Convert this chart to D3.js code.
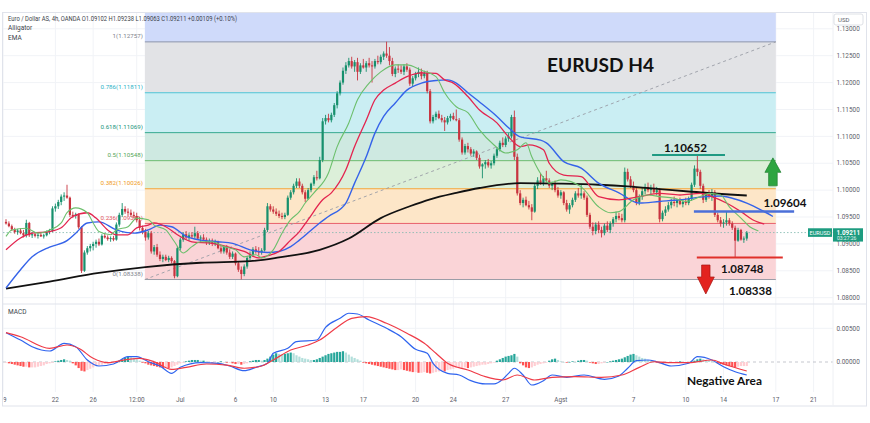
<!DOCTYPE html>
<html><head><meta charset="utf-8">
<script src="https://cdn.jsdelivr.net/npm/d3@7/dist/d3.min.js"></script>
<style>html,body{margin:0;padding:0;background:#fff;}svg{display:block;}</style>
</head><body>
<svg id="c" width="870" height="423"></svg>
<script>
// ---------- DATA (prices in pips above 1.08000; index = 4h bar) ----------
const candles = [
[141,146,136,138],[138,142,131,133],[133,136,124,127],[127,130,119,122],[122,128,117,125],[125,129,118,120],[120,126,112,116],[116,145,112,139],[139,141,113,116],[116,122,111,118],
[118,121,112,115],[115,120,110,117],[117,121,113,114],[114,119,110,116],[116,125,114,122],[122,128,118,124],[124,170,122,166],[166,175,160,170],[170,182,165,178],[178,192,172,188],
[188,196,180,190],[190,210,184,186],[186,188,150,154],[154,160,148,152],[152,158,147,155],[155,157,128,131],[131,133,46,50],[50,88,48,84],[84,96,80,92],[92,100,86,96],
[96,104,88,100],[100,108,93,104],[104,110,96,99],[99,118,97,115],[115,120,110,112],[112,116,106,109],[109,114,104,111],[111,115,105,108],[108,140,106,136],[136,158,132,154],
[154,176,150,165],[165,170,156,160],[160,166,152,158],[158,164,150,154],[154,160,148,152],[152,158,140,144],[144,150,125,130],[130,134,118,122],[122,128,106,112],[112,124,108,120],
[120,124,82,86],[86,98,80,94],[94,100,76,80],[80,86,68,72],[72,80,66,76],[76,80,68,70],[70,78,66,74],[74,77,64,68],[68,70,36,40],[40,96,38,92],
[92,112,88,108],[108,122,104,118],[118,124,108,112],[112,120,106,116],[116,122,110,114],[114,132,110,120],[120,124,108,110],[110,116,104,112],[112,118,106,108],[108,112,98,102],
[102,110,98,106],[106,110,96,100],[100,108,96,104],[104,106,90,92],[92,98,82,86],[86,96,82,94],[94,98,80,84],[84,90,72,76],[76,86,72,82],[82,84,60,64],
[64,68,48,52],[52,58,34,44],[44,62,40,58],[58,78,54,74],[74,86,70,80],[80,94,76,90],[90,96,82,86],[86,94,78,84],[84,92,80,88],[88,130,86,126],
[126,176,122,170],[170,174,160,164],[164,170,156,160],[160,166,152,156],[156,162,148,152],[152,158,146,150],[150,158,146,154],[154,190,152,186],[186,200,182,196],[196,212,192,208],
[208,222,204,216],[216,222,204,208],[208,212,192,196],[196,200,178,184],[184,204,182,200],[200,214,196,212],[212,228,208,224],[224,236,218,222],[222,262,220,256],[256,334,252,328],
[328,340,322,334],[334,342,326,330],[330,344,326,340],[340,362,336,358],[358,384,352,380],[380,404,376,400],[400,428,396,422],[422,438,416,432],[432,446,428,440],[440,448,426,430],
[430,442,420,438],[438,446,404,420],[420,436,416,432],[432,444,426,428],[428,440,420,436],[436,446,428,432],[432,440,400,430],[430,444,426,440],[440,450,434,438],[438,452,434,448],
[448,458,442,454],[454,476,446,450],[450,466,432,440],[440,446,412,416],[416,430,410,426],[426,434,418,424],[424,432,416,420],[420,434,414,430],[430,436,420,424],[424,428,394,398],
[398,412,392,408],[408,420,404,416],[416,428,410,420],[420,426,406,412],[412,422,408,418],[418,422,380,384],[384,388,324,328],[328,340,324,336],[336,346,330,342],[342,348,332,334],
[334,340,326,330],[330,336,310,326],[326,338,322,334],[334,342,328,338],[338,344,330,332],[332,350,328,330],[330,334,290,294],[294,298,266,270],[270,286,266,282],[282,288,270,276],
[276,280,264,268],[268,276,262,272],[272,274,256,260],[260,266,240,244],[244,250,222,248],[248,256,240,252],[252,258,242,246],[246,254,240,250],[250,268,246,264],[264,280,260,276],
[276,292,272,288],[288,298,280,284],[284,300,280,296],[296,306,290,300],[300,340,296,336],[336,348,256,262],[262,268,190,194],[194,200,172,176],[176,186,168,182],[182,188,170,172],
[172,180,164,168],[168,174,144,160],[160,212,158,208],[208,224,202,218],[218,232,210,214],[214,226,208,222],[222,236,214,218],[218,222,204,208],[208,216,200,212],[212,218,196,200],
[200,206,186,190],[190,200,184,196],[196,198,172,176],[176,182,160,164],[164,176,156,172],[172,186,168,182],[182,198,178,194],[194,204,186,190],[190,210,184,194],[194,198,182,186],
[186,190,150,154],[154,158,128,132],[132,140,116,124],[124,140,118,136],[136,142,120,126],[126,132,112,120],[120,138,116,134],[134,142,122,126],[126,142,120,138],[138,150,132,146],
[146,160,140,152],[152,158,144,148],[148,156,140,144],[144,242,140,234],[234,240,216,220],[220,226,204,208],[208,216,196,200],[200,206,172,178],[178,192,172,188],[188,204,182,198],
[198,212,192,206],[206,214,196,200],[200,210,190,204],[204,212,194,196],[196,206,190,200],[200,204,140,146],[146,162,142,158],[158,170,152,164],[164,178,160,172],[172,184,166,178],
[178,188,170,176],[176,184,168,182],[182,186,172,174],[174,182,168,178],[178,186,172,176],[176,188,172,184],[184,214,180,210],[210,246,206,240],[240,265,226,234],[234,238,202,208],
[208,212,176,182],[182,196,178,192],[192,200,184,188],[188,202,180,196],[196,200,150,154],[154,158,140,144],[144,150,132,138],[138,146,130,140],[140,160,134,144],[144,148,134,138],
[138,142,126,130],[130,134,75,106],[106,130,104,126],[126,128,106,108],[108,114,102,110],[110,124,106,121]
];
// Alligator & EMA points [bar index, pips]
const jaw = [[0,18],[5,52],[9,76],[15,94],[21,106],[24,120],[28,139],[32,141],[38,126],[44,120],[49,126],[53,135],[57,132],[62,114],[67,107],[73,104],[78,101],[84,89],[90,84],[94,86],[98,95],[101,107],[108,139],[111,151],[117,176],[120,213],[124,262],[127,306],[130,337],[134,362],[138,386],[143,399],[148,404],[152,405],[155,399],[159,381],[163,364],[169,337],[173,316],[177,299],[184,293],[186,288],[192,253],[198,241],[204,213],[211,195],[218,176],[225,179],[232,182],[241,188],[246,189],[250,185],[255,176],[260,163],[264,151]];
const teeth = [[0,89],[5,111],[9,120],[15,123],[19,130],[23,151],[28,158],[31,148],[35,126],[38,117],[42,117],[45,130],[49,135],[51,139],[55,132],[59,117],[64,104],[71,101],[76,95],[82,86],[87,74],[90,78],[94,86],[98,107],[101,123],[104,145],[109,182],[112,195],[117,238],[120,281],[124,330],[127,368],[130,386],[134,399],[138,411],[143,418],[148,417],[151,405],[154,399],[159,374],[163,349],[169,325],[173,299],[177,281],[180,284],[185,275],[187,250],[192,228],[198,225],[204,188],[211,182],[218,188],[225,194],[232,191],[239,194],[243,188],[248,176],[253,160],[257,145],[261,137]];
const lips = [[0,114],[2,126],[7,129],[11,120],[15,126],[19,139],[21,158],[24,167],[28,158],[30,139],[32,123],[36,117],[38,126],[42,132],[45,148],[49,145],[51,135],[55,126],[58,104],[61,83],[64,95],[67,104],[71,104],[75,95],[79,89],[82,76],[86,80],[88,74],[92,89],[95,120],[98,145],[101,160],[103,176],[106,195],[111,232],[114,281],[118,325],[121,368],[125,399],[129,420],[134,433],[138,433],[143,423],[148,411],[151,381],[155,355],[159,344],[163,312],[168,284],[172,269],[176,275],[179,288],[181,262],[184,231],[187,213],[191,219],[198,206],[204,169],[208,158],[211,160],[216,182],[221,191],[225,188],[230,185],[234,179],[239,188],[242,194],[246,191],[249,169],[253,148],[256,132],[259,124]];
const ema = [[0,17],[15,30],[32,46],[48,57],[67,65],[84,68],[94,75],[108,89],[118,110],[129,148],[139,170],[146,183],[155,195],[163,204],[177,213],[191,212],[204,210],[214,207],[225,202],[236,197],[255,190]];
// MACD points [bar index, value x1e-4]
const macd = [[0,43.5],[5,32.6],[9,22.7],[15,16.3],[20,27.7],[24,22.7],[28,3],[32,-5.9],[37,-3],[42,7.9],[45,7.9],[49,0.4],[53,-5.9],[57,-16.8],[60,-7.9],[67,-1],[73,-1.9],[77,-5.9],[82,-12.9],[86,-7.9],[90,-1.9],[92,12.9],[97,20.3],[100,30.1],[107,32.6],[110,51.5],[115,64.8],[118,72.3],[121,71.2],[125,62.3],[131,50],[136,37.5],[141,18.8],[145,12.9],[147,-1.9],[152,-16.8],[156,-19.3],[160,-27.7],[165,-32.6],[168,-32.6],[171,-25.7],[173,-16.8],[175,-9.3],[178,-19.3],[181,-34.1],[185,-27.7],[188,-19.3],[193,-22.7],[199,-19.3],[206,-25.7],[211,-20.8],[214,-9.3],[217,1.9],[221,3],[224,0.4],[229,-5.9],[235,-1.9],[238,7.9],[243,3],[247,-7],[251,-14.4],[255,-19.3]];
const signal = [[0,43.5],[5,37.5],[15,20.3],[21,25.2],[25,20.3],[30,5.5],[35,-1],[42,4],[46,5.5],[51,0.4],[57,-10.8],[62,-7.9],[69,-3],[76,-4.5],[82,-9.3],[88,-5.9],[92,3],[98,17.8],[104,25.2],[108,32.6],[114,51.5],[119,64.8],[124,67.2],[131,57.4],[138,42.6],[144,27.7],[148,12.9],[152,-1.9],[159,-11.9],[165,-21.8],[171,-26.7],[176,-19.3],[182,-26.7],[188,-22.7],[196,-21.8],[205,-22.7],[212,-19.3],[218,-7.9],[223,0.4],[228,-1],[235,-1],[243,3],[247,-3],[255,-13.4]];
const hist = [-1,-2,-3,-4,-5,-6,-7,-7,-8,-8,-8,-7,-6,-5,-3,-2,-1,1,2,3,4,3,2,-2,-5,-9,-13,-14,-12,-10,-8,-6,-5,-4,-3,-3,-2,-1,0,2,4,6,8,7,6,4,2,
-1,-2,-4,-5,-6,-7,-8,-9,-8,-9,-8,-6,-4,-2,-1,1,2,3,3,3,2,2,1,0,-1,-1,0,1,0,-1,-1,-2,-3,-3,-4,-3,-2,1,2,3,3,2,3,5,
8,11,13,12,11,12,13,14,13,10,8,6,5,4,3,3,4,6,8,10,12,13,14,15,15,16,14,11,8,6,4,2,-1,-2,-3,-4,-5,-6,-7,-8,
-9,-10,-11,-12,-12,-11,-12,-13,-14,-15,-15,-16,-16,-15,-16,-17,-16,-15,-14,-13,-14,-12,-11,-10,-9,-9,-9,-8,-9,-8,-7,
-6,-5,-4,-4,-3,-2,-1,2,4,6,8,9,10,12,8,-2,-5,-8,-9,-8,-6,-4,-3,-2,-1,2,4,5,3,1,0,-1,0,1,0,2,3,3,2,
-1,-2,-3,-3,-2,-1,0,1,2,3,4,5,7,9,11,12,10,8,6,5,3,2,1,-1,-2,-3,-3,-2,-1,-1,0,1,0,-1,0,1,2,4,5,4,3,2,1,0,
-2,-3,-4,-5,-6,-7,-8,-7,-6,-6,-6];
// Fibonacci retracement
const fibRatios = ["0","0.236","0.382","0.5","0.618","0.786","1"];
const fibPrices = [1.08338,1.09381,1.10026,1.10548,1.11069,1.11811,1.12757];
const fibExtTop = 1.13500;
// Marked levels
const markLevels = [1.10652,1.09604,1.08748];
const markTexts = ["1.10652","1.09604","1.08748","1.08338"];
const lastPrice = 1.09211;
// Axes
const tickIdx = [-1,17,30,45,60,79,92,110,123,141,154,172,191,216,234,247,265,278];
const tickLabels = ["19","22","26","12:00","Jul","6","10","13","17","20","24","27","Agst","7","10","14","17","21"];
const priceTicks = [1.08,1.085,1.09,1.095,1.10,1.105,1.11,1.115,1.12,1.125,1.13];
const macdTicks = [0,0.005];

// ---------- LAYOUT / STYLE ----------
const L=3, R=833, T=12, MB=304, MT=304, AB=406;
const UP="#17906d", DN="#c8343f";
const fibLine=["#9a9ca6","#e8606a","#f4a53a","#6dbb6f","#35a88e","#4ec3d6","#8c93ad"];
const fibLbl =["#80838d","#e2535c","#f09a22","#55a657","#22957c","#2fb3c8","#80838d"];
const fibZone=[null,"#fad4d7","#fde6c8","#dcefd9","#cee9e1","#caeef3","#e2e3e6"];
const font="Roboto, 'Open Sans', sans-serif";

const svg=d3.select("#c");
svg.append("rect").attr("width",870).attr("height",423).attr("fill","#fff");

const x=d3.scaleLinear().domain([0,100]).range([6,296.5]);
const y=d3.scaleLinear().domain([1.08,1.13]).range([297.7,28.8]);
const ym=d3.scaleLinear().domain([0,0.005]).range([362,328.3]);
const P=v=>1.08+v/10000;
const M=v=>v/10000;

const defs=svg.append("defs");
defs.append("clipPath").attr("id","cm").append("rect").attr("x",L).attr("y",T).attr("width",R-L).attr("height",MB-T);
defs.append("clipPath").attr("id","cd").append("rect").attr("x",L).attr("y",MT).attr("width",R-L).attr("height",392-MT);
defs.append("clipPath").attr("id","ct").append("rect").attr("x",L+0.5).attr("y",392).attr("width",R-L).attr("height",14);

// grid
const grid=svg.append("g");
tickIdx.forEach(i=>{grid.append("line").attr("x1",x(i)).attr("x2",x(i)).attr("y1",T).attr("y2",392).attr("stroke","#f1f3f7").attr("stroke-width",1).attr("clip-path","url(#cm)");
 grid.append("line").attr("x1",x(i)).attr("x2",x(i)).attr("y1",MT).attr("y2",392).attr("stroke","#f1f3f7").attr("clip-path","url(#cd)");});
priceTicks.forEach(p=>grid.append("line").attr("x1",L).attr("x2",R).attr("y1",y(p)).attr("y2",y(p)).attr("stroke","#f1f3f7").attr("clip-path","url(#cm)"));
grid.append("line").attr("x1",L).attr("x2",R).attr("y1",ym(0.005)).attr("y2",ym(0.005)).attr("stroke","#f1f3f7");

// main pane
const main=svg.append("g").attr("clip-path","url(#cm)");
const fx0=x(47.8), fx1=x(265);
main.append("rect").attr("x",fx0).attr("width",fx1-fx0).attr("y",y(fibExtTop)).attr("height",y(fibPrices[6])-y(fibExtTop)).attr("fill","#cfdafa");
for(let k=1;k<fibPrices.length;k++){
  main.append("rect").attr("x",fx0).attr("width",fx1-fx0).attr("y",y(fibPrices[k])).attr("height",y(fibPrices[k-1])-y(fibPrices[k])).attr("fill",fibZone[k]);
}
fibPrices.forEach((p,k)=>{
  main.append("line").attr("x1",fx0).attr("x2",fx1).attr("y1",y(p)).attr("y2",y(p)).attr("stroke",fibLine[k]).attr("stroke-width",1);
  main.append("text").attr("x",fx0-2).attr("y",y(p)-3.5).attr("text-anchor","end").attr("font-family",font).attr("font-size",6.2).attr("fill",fibLbl[k]).text(fibRatios[k]+"("+p.toFixed(5)+")");
});
main.append("line").attr("x1",fx0).attr("y1",y(fibPrices[0])).attr("x2",fx1).attr("y2",y(fibPrices[6])).attr("stroke","#9a9da6").attr("stroke-width",0.9).attr("stroke-dasharray","3,3");

// last price line
main.append("line").attr("x1",L).attr("x2",R).attr("y1",y(lastPrice)).attr("y2",y(lastPrice)).attr("stroke","#7fb9ad").attr("stroke-width",0.8).attr("stroke-dasharray","1.5,2");

// candles
const cg=main.append("g");
candles.forEach((c,i)=>{
  const [o,h,l,cl]=c, col=cl>=o?UP:DN, xx=x(i);
  cg.append("line").attr("x1",xx).attr("x2",xx).attr("y1",y(P(h))).attr("y2",y(P(l))).attr("stroke",col).attr("stroke-width",0.9);
  const yt=y(P(Math.max(o,cl))), yb=y(P(Math.min(o,cl)));
  cg.append("rect").attr("x",xx-1.1).attr("width",2.2).attr("y",yt).attr("height",Math.max(0.8,yb-yt)).attr("fill",col);
});

// indicator lines
const ln=d3.line().x(d=>x(d[0])).y(d=>y(P(d[1]))).curve(d3.curveMonotoneX);
main.append("path").datum(ema).attr("d",ln).attr("fill","none").attr("stroke","#111").attr("stroke-width",1.8);
main.append("path").datum(jaw).attr("d",ln).attr("fill","none").attr("stroke","#3563e9").attr("stroke-width",1.4);
main.append("path").datum(teeth).attr("d",ln).attr("fill","none").attr("stroke","#e3244f").attr("stroke-width",1.3);
main.append("path").datum(lips).attr("d",ln).attr("fill","none").attr("stroke","#6cbf6c").attr("stroke-width",1.1);

// annotations
const ann=svg.append("g");
const bold="Lato, 'Open Sans', sans-serif";
ann.append("text").attr("x",547).attr("y",71.5).attr("font-family",bold).attr("font-weight",700).attr("font-size",19.5).attr("fill","#111").attr("textLength",107).attr("lengthAdjust","spacingAndGlyphs").text("EURUSD H4");
ann.append("line").attr("x1",x(222.4)).attr("x2",x(247.5)).attr("y1",y(markLevels[0])).attr("y2",y(markLevels[0])).attr("stroke","#1f9a83").attr("stroke-width",2);
ann.append("text").attr("x",664).attr("y",152.3).attr("font-family",bold).attr("font-weight",700).attr("font-size",12).attr("fill","#111").attr("textLength",43).attr("lengthAdjust","spacingAndGlyphs").text(markTexts[0]);
ann.append("line").attr("x1",x(236.8)).attr("x2",x(271.3)).attr("y1",y(markLevels[1])).attr("y2",y(markLevels[1])).attr("stroke","#4b6fd8").attr("stroke-width",2.5);
ann.append("text").attr("x",763.5).attr("y",207).attr("font-family",bold).attr("font-weight",700).attr("font-size",12).attr("fill","#111").attr("textLength",43).attr("lengthAdjust","spacingAndGlyphs").text(markTexts[1]);
ann.append("line").attr("x1",x(237.8)).attr("x2",x(267.4)).attr("y1",y(markLevels[2])).attr("y2",y(markLevels[2])).attr("stroke","#e0302a").attr("stroke-width",2);
ann.append("text").attr("x",721).attr("y",272.7).attr("font-family",bold).attr("font-weight",700).attr("font-size",12).attr("fill","#111").attr("textLength",42.5).attr("lengthAdjust","spacingAndGlyphs").text(markTexts[2]);
ann.append("text").attr("x",729).attr("y",295).attr("font-family",bold).attr("font-weight",700).attr("font-size",12).attr("fill","#111").attr("textLength",43).attr("lengthAdjust","spacingAndGlyphs").text(markTexts[3]);
const ua={c:x(264),top:y(1.1060),bot:y(1.1008)};
ann.append("path").attr("d",`M${ua.c},${ua.top} L${ua.c+8},${ua.top+14.5} L${ua.c+4.3},${ua.top+14.5} L${ua.c+4.3},${ua.bot} L${ua.c-4.3},${ua.bot} L${ua.c-4.3},${ua.top+14.5} L${ua.c-8},${ua.top+14.5} Z`).attr("fill","#2ea541").attr("stroke","#1f7f30").attr("stroke-width",0.7);
const da={c:x(240.9),top:y(1.08608),bot:y(1.08069)};
ann.append("path").attr("d",`M${da.c},${da.bot} L${da.c+8.5},${da.bot-17} L${da.c+4.2},${da.bot-17} L${da.c+4.2},${da.top} L${da.c-4.2},${da.top} L${da.c-4.2},${da.bot-17} L${da.c-8.5},${da.bot-17} Z`).attr("fill","#e3231f").attr("stroke","#a81612").attr("stroke-width",0.7);

// MACD pane
const mg=svg.append("g").attr("clip-path","url(#cd)");
mg.append("line").attr("x1",L).attr("x2",R).attr("y1",ym(0)).attr("y2",ym(0)).attr("stroke","#b6b9c2").attr("stroke-width",0.8).attr("stroke-dasharray","3,3");
hist.forEach((h,i)=>{
  const prev=i>0?hist[i-1]:h;
  const col=h>=0?(h>=prev?"#26a69a":"#b2dfdb"):(h<prev?"#ff5252":"#ffcdd2");
  const y0=ym(0), y1=ym(M(h));
  mg.append("rect").attr("x",x(i)-1.1).attr("width",2.2).attr("y",Math.min(y0,y1)).attr("height",Math.max(0.5,Math.abs(y1-y0))).attr("fill",col);
});
const lm=d3.line().x(d=>x(d[0])).y(d=>ym(M(d[1]))).curve(d3.curveMonotoneX);
mg.append("path").datum(macd).attr("d",lm).attr("fill","none").attr("stroke","#2f64ef").attr("stroke-width",1.2);
mg.append("path").datum(signal).attr("d",lm).attr("fill","none").attr("stroke","#ef3b47").attr("stroke-width",1.2);
ann.append("text").attr("x",687).attr("y",385).attr("font-family",bold).attr("font-weight",700).attr("font-size",11.5).attr("fill","#111").attr("textLength",75).attr("lengthAdjust","spacingAndGlyphs").text("Negative Area");

// borders
const bd=svg.append("g").attr("fill","none").attr("stroke","#e0e3eb").attr("stroke-width",1);
bd.append("rect").attr("x",2.5).attr("y",T+0.5).attr("width",864).attr("height",AB-T-0.5);
bd.append("line").attr("x1",2.5).attr("x2",866.5).attr("y1",MB).attr("y2",MB);
bd.append("line").attr("x1",R).attr("x2",R).attr("y1",T).attr("y2",AB).attr("stroke","#eef0f4");

// price axis labels
const ax=svg.append("g").attr("font-family",font).attr("font-size",6.4).attr("fill","#5d606b");
priceTicks.forEach(p=>ax.append("text").attr("x",836.5).attr("y",y(p)+2.2).text(p.toFixed(5)));
macdTicks.forEach(p=>ax.append("text").attr("x",836.5).attr("y",ym(p)+2.2).text(p.toFixed(5)));
svg.append("rect").attr("x",834).attr("y",14).attr("width",29).attr("height",11).attr("rx",2).attr("fill","#fff").attr("stroke","#d6d9e0").attr("stroke-width",0.8);
svg.append("text").attr("x",838).attr("y",21.8).attr("font-family",font).attr("font-size",6).attr("fill","#5d606b").text("USD");
// last price tags
svg.append("rect").attr("x",808).attr("y",y(lastPrice)-4.3).attr("width",24).attr("height",8.6).attr("fill","#1d9c80");
svg.append("text").attr("x",820).attr("y",y(lastPrice)+2).attr("text-anchor","middle").attr("font-family",font).attr("font-size",5.6).attr("fill","#fff").text("EURUSD");
svg.append("rect").attr("x",833).attr("y",y(lastPrice)-4.3).attr("width",30).attr("height",13.3).attr("fill","#1d9c80");
svg.append("text").attr("x",836.5).attr("y",y(lastPrice)+2.1).attr("font-family",font).attr("font-size",6.3).attr("font-weight",700).attr("fill","#fff").text(lastPrice.toFixed(5));
svg.append("text").attr("x",837).attr("y",y(lastPrice)+7.6).attr("font-family",font).attr("font-size",5).attr("fill","#e6f5f1").text("03:27:26");

// time axis
const ta=svg.append("g").attr("clip-path","url(#ct)").attr("font-family",font).attr("font-size",6.4).attr("fill","#5d606b");
tickIdx.forEach((i,k)=>ta.append("text").attr("x",x(i)).attr("y",402).attr("text-anchor","middle").text(tickLabels[k]));

// legends
const lg=svg.append("g").attr("font-family",font).attr("font-size",6.5).attr("fill","#3b3f4a");
lg.append("text").attr("x",8).attr("y",20.5).attr("textLength",229).attr("lengthAdjust","spacingAndGlyphs").text("Euro / Dollar AS, 4h, OANDA  O1.09102  H1.09238  L1.09063  C1.09211  +0.00109 (+0.10%)");
lg.append("text").attr("x",8).attr("y",30).text("Alligator");
lg.append("text").attr("x",8).attr("y",39.5).text("EMA");
lg.append("text").attr("x",8).attr("y",314).text("MACD");
</script></body></html>
